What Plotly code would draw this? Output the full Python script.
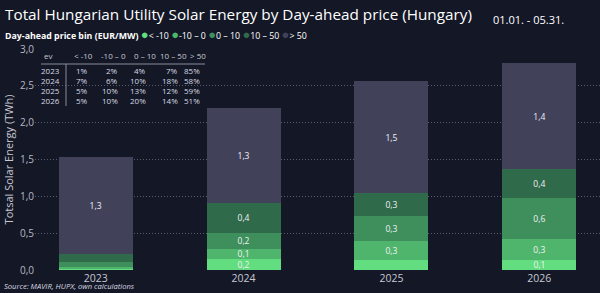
import plotly.graph_objects as go

years = ["2023", "2024", "2025", "2026"]
bins = ["< -10", "-10 – 0", "0 – 10", "10 – 50", "> 50"]

lt_m10 = [0.016, 0.155, 0.13, 0.14]
m10_0 = [0.031, 0.133, 0.26, 0.28]
z_10 = [0.062, 0.22, 0.34, 0.56]
t_50 = [0.11, 0.40, 0.31, 0.39]
gt_50 = [1.32, 1.29, 1.53, 1.44]

show_lt_m10 = [False, True, False, True]
show_m10_0 = [False, True, True, True]
show_z_10 = [False, True, True, True]
show_t_50 = [False, True, True, True]
show_gt_50 = [True, True, True, True]

share_table = {
    "2023": ["1%", "2%", "4%", "7%", "85%"],
    "2024": ["7%", "6%", "10%", "18%", "58%"],
    "2025": ["5%", "10%", "13%", "12%", "59%"],
    "2026": ["5%", "10%", "20%", "14%", "51%"],
}

colors = ["#62dd7f", "#4fb56c", "#3e8f5c", "#2f6a4b", "#41425a"]
series = [lt_m10, m10_0, z_10, t_50, gt_50]
shows = [show_lt_m10, show_m10_0, show_z_10, show_t_50, show_gt_50]

BG = "#131726"
FONT = "Open Sans"

fig = go.Figure()
for name, vals, show, col in zip(bins, series, shows, colors):
    txt = [(f"{v:.1f}".replace(".", ",") if s else "") for v, s in zip(vals, show)]
    fig.add_trace(go.Bar(
        x=years, y=vals, name=name, marker=dict(color=col, line=dict(width=0)),
        text=txt, textposition="inside", insidetextanchor="middle",
        textangle=0, constraintext="none",
        textfont=dict(color="#f0f0f4", size=8.5, family=FONT),
        width=0.5, showlegend=False, cliponaxis=False,
    ))

W, H = 600, 293
pl, pr, pt, pb = 35, 0, 49, 23
pw, ph = W - pl - pr, H - pt - pb

fig.update_layout(
    barmode="stack",
    width=W, height=H,
    margin=dict(l=pl, r=pr, t=pt, b=pb),
    paper_bgcolor=BG, plot_bgcolor=BG,
    separators=",.",
    font=dict(family=FONT, color="#d8d8e0"),
    xaxis=dict(type="category", range=[-0.41, 3.41], showgrid=False,
               tickfont=dict(size=10.5, color="#c8c8d2"), ticks="", showline=False,
               zeroline=False),
    yaxis=dict(range=[0, 3.0], dtick=0.5, tickformat=".1f",
               showgrid=True, gridcolor="#585c6c", griddash="1px,2px", gridwidth=1,
               zeroline=False, tickfont=dict(size=10, color="#b8b8c4"),
               title=dict(text="Totsal Solar Energy (TWh)", font=dict(size=11, color="#c8c8d2"),
                          standoff=4)),
)

def px(x):
    return (x - pl) / pw

def py(y):
    return (H - pb - y) / ph

annotations = []
annotations.append(dict(text="Total Hungarian Utility Solar Energy by Day-ahead price (Hungary)",
                        x=px(3), y=py(14), xref="paper", yref="paper", xanchor="left", yanchor="middle",
                        showarrow=False, font=dict(size=15.3, color="#ffffff", family=FONT)))
annotations.append(dict(text="01.01. - 05.31.", x=px(491), y=py(19), xref="paper", yref="paper",
                        xanchor="left", yanchor="middle", showarrow=False,
                        font=dict(size=11, color="#ffffff", family=FONT)))
leg = "<b>Day-ahead price bin (EUR/MW)</b> "
for b, c in zip(bins, colors):
    leg += f"<span style='color:{c};font-size:13px'>●</span>{b} "
annotations.append(dict(text=leg, x=px(3), y=py(34), xref="paper", yref="paper",
                        xanchor="left", yanchor="middle", showarrow=False,
                        font=dict(size=8.8, color="#ffffff", family=FONT)))
annotations.append(dict(text="<i>Source: MAVIR, HUPX, own calculations</i>", x=px(2), y=py(292.5),
                        xref="paper", yref="paper", xanchor="left", yanchor="bottom", showarrow=False,
                        font=dict(size=7.6, color="#d8d8e0", family=FONT)))

# table
col_x = [62, 90, 120, 148, 180, 202]
head = ["ev"] + bins
hx = [48, 83, 113, 145, 173, 198]
for h, x in zip(head, hx):
    annotations.append(dict(text=h, x=px(x), y=py(55), xref="paper", yref="paper",
                            xanchor="center", yanchor="middle", showarrow=False,
                            font=dict(size=8, color="#c8c8d2", family=FONT)))
for i, yr in enumerate(years):
    yy = 70 + i * 10.3
    cells = [yr] + share_table[yr]
    for c, x in zip(cells, col_x):
        annotations.append(dict(text=c, x=px(x), y=py(yy), xref="paper", yref="paper",
                                xanchor="right", yanchor="middle", showarrow=False,
                                font=dict(size=8, color="#d8d8e0", family=FONT)))

shapes = [
    dict(type="line", xref="paper", yref="paper", x0=px(41), x1=px(205), y0=py(64), y1=py(64),
         line=dict(color="#8a8c98", width=1)),
    dict(type="line", xref="paper", yref="paper", x0=px(66), x1=px(66), y0=py(64), y1=py(106),
         line=dict(color="#8a8c98", width=1)),
]

fig.update_layout(annotations=annotations, shapes=shapes)
fig.write_html("out.html")
